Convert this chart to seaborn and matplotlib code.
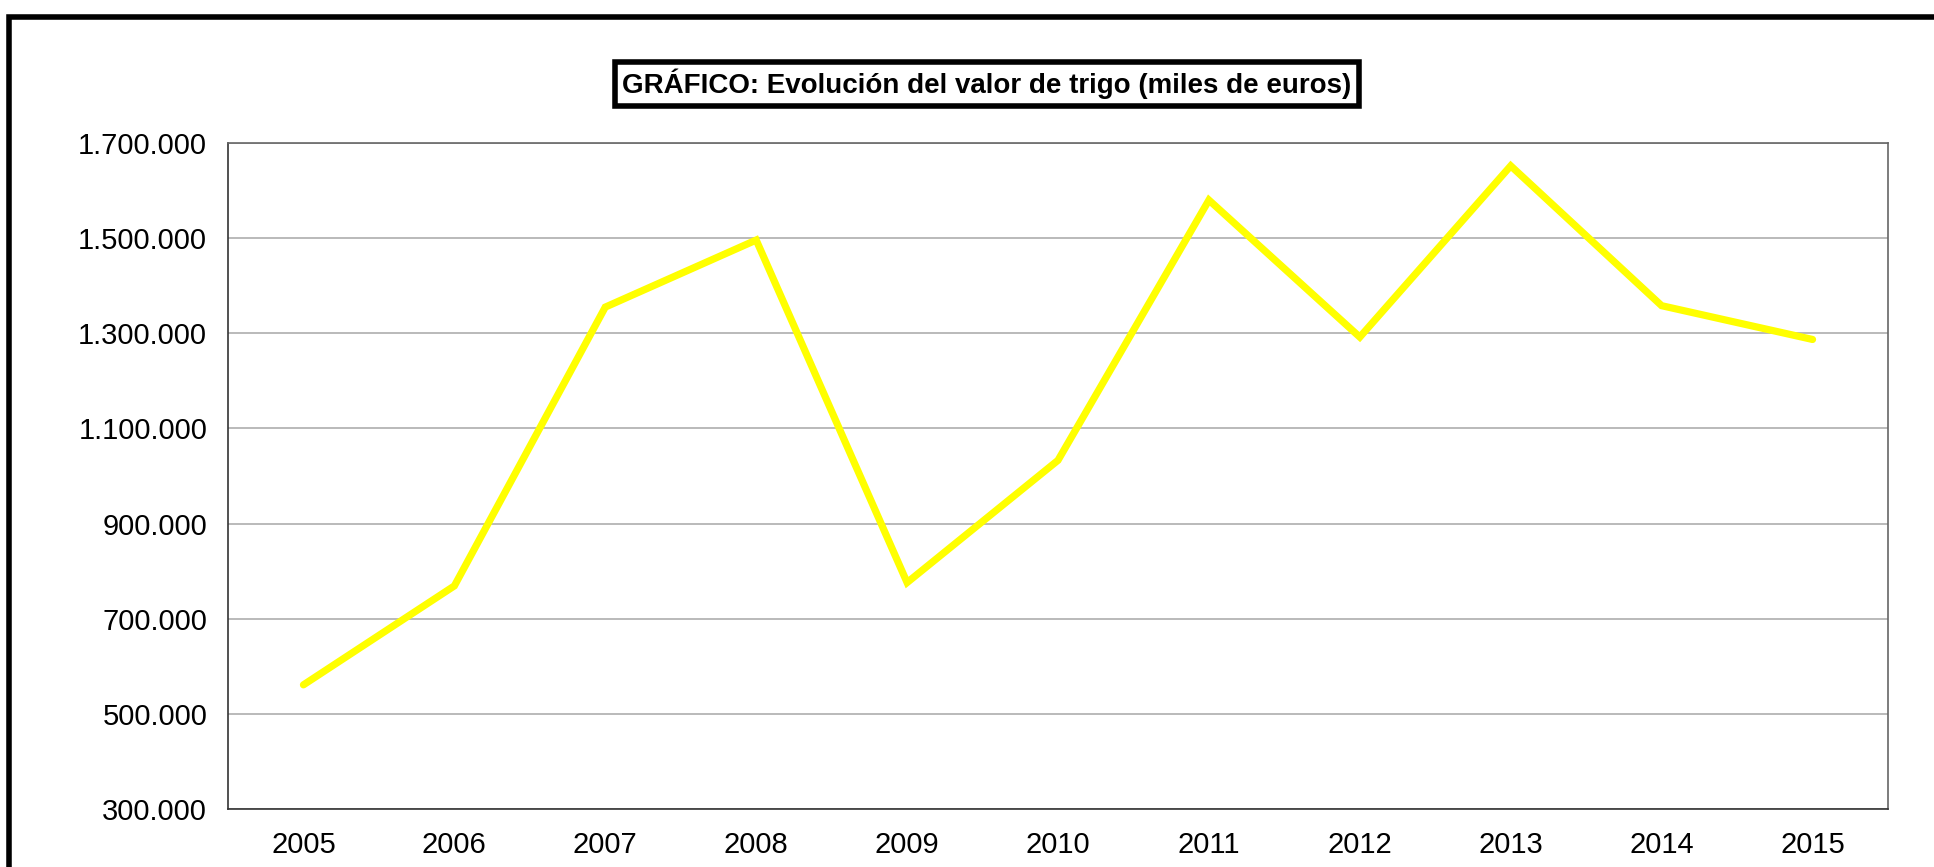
import numpy as np
import pandas as pd
import matplotlib
matplotlib.use("Agg")
import matplotlib.pyplot as plt
import matplotlib.ticker as mticker
from matplotlib.patches import Rectangle
import seaborn as sns

years = [2005, 2006, 2007, 2008, 2009, 2010, 2011, 2012, 2013, 2014, 2015]
valor = [561000, 769000, 1355000, 1496000, 776000, 1033000, 1580000, 1292000, 1652000, 1358000, 1287000]
y_ticks = [300000, 500000, 700000, 900000, 1100000, 1300000, 1500000, 1700000]
title = "GRÁFICO: Evolución del valor de trigo (miles de euros)"

df = pd.DataFrame({"Año": years, "Valor": valor})

sns.set_style("white")
plt.rcParams["font.family"] = ["Liberation Sans", "DejaVu Sans"]
plt.rcParams["text.color"] = "black"
plt.rcParams["xtick.color"] = "black"
plt.rcParams["ytick.color"] = "black"

W, H = 1934, 867
fig = plt.figure(figsize=(W / 100, H / 100), dpi=100)
ax = fig.add_axes([228 / W, 1 - 809 / H, (1888 - 228) / W, (809 - 143) / H])

sns.lineplot(data=df, x="Año", y="Valor", ax=ax, color="#FFFF00", linewidth=5.2,
             solid_capstyle="round", solid_joinstyle="miter")

ax.set_xlim(years[0] - 0.5, years[-1] + 0.5)
ax.set_ylim(y_ticks[0], y_ticks[-1])
ax.set_yticks(y_ticks)
ax.yaxis.set_major_formatter(mticker.FuncFormatter(lambda v, p: f"{v:,.0f}".replace(",", ".")))

ax.set_xticks(np.arange(years[0] - 0.5, years[-1] + 1.0, 1.0))
ax.set_xticklabels([])
ax.set_xticks(years, minor=True)
ax.set_xticklabels([str(y) for y in years], minor=True)
ax.tick_params(axis="x", which="major", direction="out", length=6, width=1.0, color="#333333")
ax.tick_params(axis="x", which="minor", length=0, pad=16, labelsize=21, labelcolor="black")
ax.tick_params(axis="y", which="major", direction="out", length=6, width=1.0, color="#333333",
               pad=9, labelsize=21, labelcolor="black")
ax.set_xlabel("")
ax.set_ylabel("")

ax.grid(axis="y", color="#b4b4b4", linewidth=1.3)
ax.set_axisbelow(True)
for s in ["left", "bottom"]:
    ax.spines[s].set_color("#333333")
    ax.spines[s].set_linewidth(1.2)
for s in ["top", "right"]:
    ax.spines[s].set_color("#666666")
    ax.spines[s].set_linewidth(1.2)

fig.text(987 / W, 1 - 84 / H, title, ha="center", va="center", fontsize=20, fontweight="bold",
         color="black",
         bbox=dict(boxstyle="square,pad=0.25", facecolor="white", edgecolor="black", linewidth=4))

frame = Rectangle((9 / W, -0.2), 1.2, 1 - 17 / H + 0.2, transform=fig.transFigure,
                  fill=False, edgecolor="black", linewidth=4, clip_on=False)
fig.add_artist(frame)

fig.savefig("out.png", dpi=100, facecolor="white")
